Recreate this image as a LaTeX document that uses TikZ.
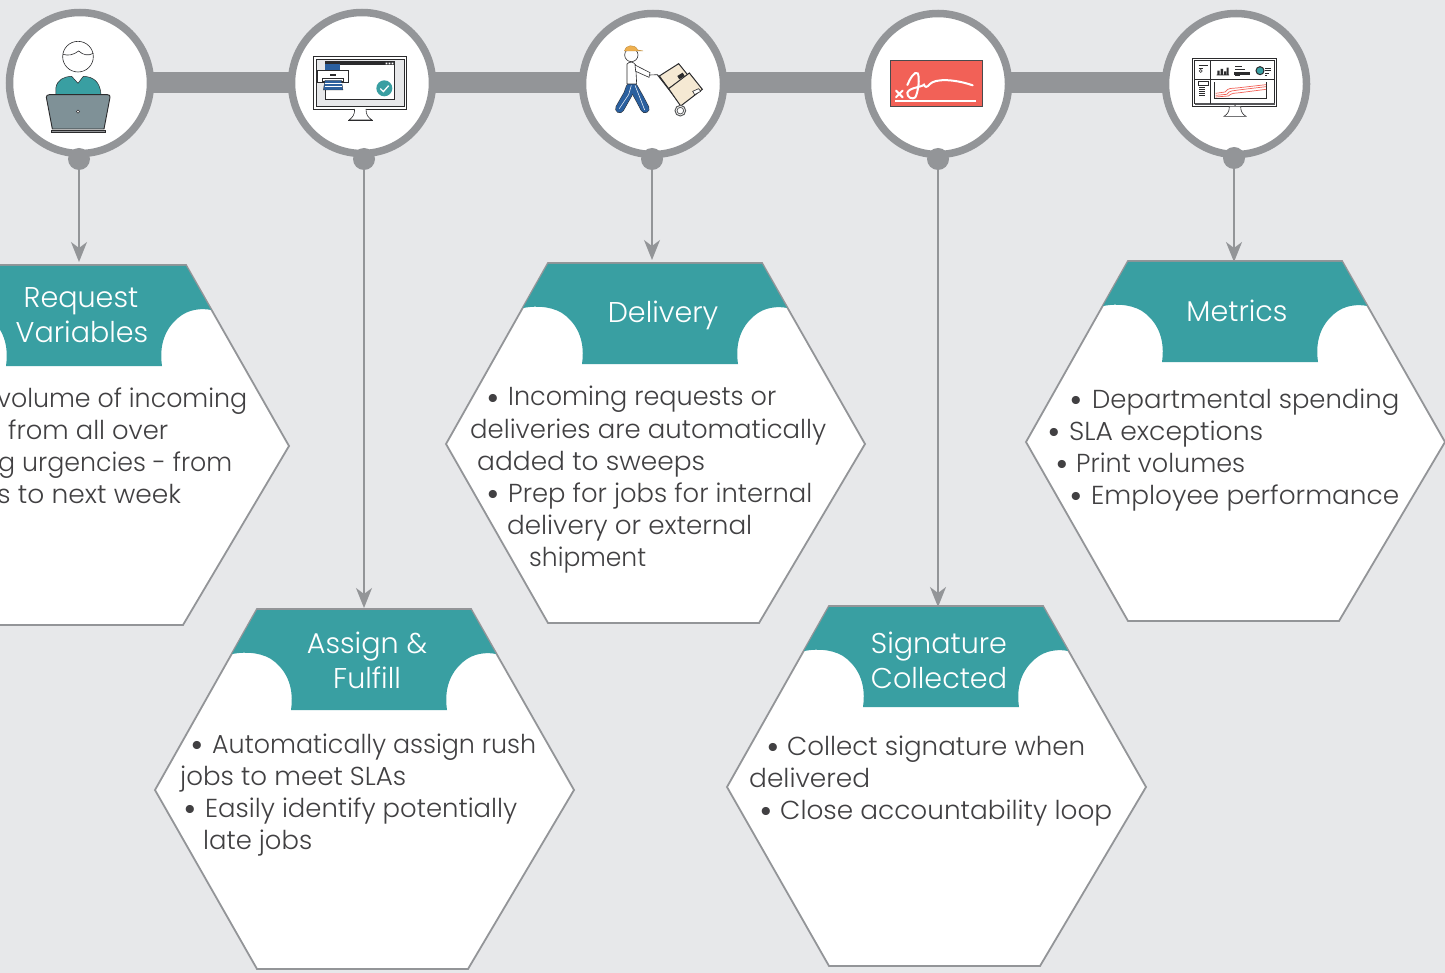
\documentclass[tikz,border=0pt]{standalone}
\usepackage{fontspec}
\usepackage{graphicx}
\usetikzlibrary{arrows.meta,backgrounds}
\setmainfont{Poppins}
\newfontfamily\lightfont{Poppins Light}
\definecolor{bgc}{HTML}{E7E8EA}
\definecolor{greyc}{HTML}{939598}
\definecolor{tealc}{HTML}{399FA2}
\definecolor{txtc}{HTML}{414042}
\definecolor{dk}{HTML}{2B2B2D}
\definecolor{bluec}{HTML}{2A5F9E}
\definecolor{redc}{HTML}{F26157}
\definecolor{boxc}{HTML}{F5E9D3}
\definecolor{hatc}{HTML}{EFB04F}
\definecolor{slatec}{HTML}{7F9197}
\tikzset{
  x=1pt,y=-1pt,
  hub/.style={circle,draw=greyc,line width=7.5pt,fill=white,minimum size=141pt,inner sep=0pt},
  dot/.style={circle,fill=greyc,minimum size=22pt,inner sep=0pt},
  bar/.style={draw=greyc,line width=21pt},
  conn/.style={draw=greyc,line width=1.8pt,-{Stealth[length=20pt,width=16pt,inset=6pt]}},
  hexa/.style={draw=greyc,line width=1.8pt,fill=white,line join=miter},
  title/.style={text=white,anchor=base,inner sep=0pt,font=\lightfont\fontsize{28.6}{30}\selectfont},
  ln/.style={text=txtc,anchor=base west,inner sep=0pt,font=\lightfont\fontsize{26}{30}\selectfont},
  bul/.style={text=txtc,anchor=base west,inner sep=0pt,font=\normalfont\fontsize{33}{30}\selectfont},
  thin/.style={draw=dk,line width=0.6pt},
  zoomed/.style={x=0.33333pt,y=-0.33333pt},
}
\newcommand{\W}[2]{\resizebox{#1pt}{\height}{#2}}
% hexagon: #1 left, #2 top
\newcommand{\hexagonbox}[2]{%
  \begin{scope}[shift={(#1,#2)}]
    \draw[hexa] (0,181) -- (102,0) -- (316,0) -- (419,181) -- (313,360) -- (102,360) -- cycle;
    \fill[tealc] (102,1) -- (316,1) -- (341,45)
      .. controls (332,43) and (318,44) .. (308,53)
      .. controls (295,64) and (289,80) .. (292,101)
      -- (136,101)
      .. controls (139,80) and (133,64) .. (120,53)
      .. controls (110,44) and (92,42) .. (77,45) -- cycle;
  \end{scope}}
\begin{document}
\begin{tikzpicture}
\useasboundingbox (0,0) rectangle (1445,973);
\clip (0,0) rectangle (1445,973);
\begin{scope}[on background layer]
  \fill[bgc] (0,0) rectangle (1445,973);
\end{scope}
% hubs
\node[hub] (h1) at (80,83) {};
\node[hub] (h2) at (362,83) {};
\node[hub] (h3) at (653,84) {};
\node[hub] (h4) at (938,84) {};
\node[hub] (h5) at (1236,84) {};
\begin{scope}[on background layer,yshift=0.5pt]
  \draw[bar] (h1.center) -- (h2.center);
  \draw[bar] (h2.center) -- (h3.center |- h2.center);
  \draw[bar] (h3.center |- h2.center) -- (h4.center |- h2.center);
  \draw[bar] (h4.center |- h2.center) -- (h5.center |- h2.center);
\end{scope}
\node[dot] (d1) at (79,159) {};
\node[dot] (d2) at (364,159) {};
\node[dot] (d3) at (652,159) {};
\node[dot] (d4) at (938,159) {};
\node[dot] (d5) at (1234,158) {};
% hexagons
\hexagonbox{-130}{265}
\hexagonbox{446}{263}
\hexagonbox{1026}{261}
\hexagonbox{155}{609}
\hexagonbox{727}{606}
% arrow ends
\coordinate (a1) at (79,262);
\coordinate (a2) at (364,608);
\coordinate (a3) at (652,260);
\coordinate (a4) at (938,607);
\coordinate (a5) at (1234,262);
\draw[conn] (d1) -- (a1);
\draw[conn] (d2) -- (a2);
\draw[conn] (d3) -- (a3);
\draw[conn] (d4) -- (a4);
\draw[conn] (d5) -- (a5);
% titles
\node[title] (t1a) at (81,308) {Request};
\node[title] (t1b) at (82,343) {Variables};
\node[title] (t3) at (663,323) {Delivery};
\node[title] (t5) at (1237,322) {Metrics};
\node[title] (t2a) at (367,653) {Assign \&};
\node[title] (t2b) at (367,688) {Fulfill};
\node[title] (t4a) at (939,653) {Signature};
\node[title] (t4b) at (939,688) {Collected};
% body text
\node[ln] (r1) at (-3,407) {\W{250}{volume of incoming}};
\node[ln] (r2) at (8,439) {\W{160}{from all over}};
\node[ln] (r3) at (-2,471) {\W{234}{g urgencies - from}};
\node[ln] (r4) at (-3,503) {\W{184}{s to next week}};
\node[bul] (dlb1) at (486,409) {•};
\node[ln] (dl1) at (508,406) {\W{268}{Incoming requests or}};
\node[ln] (dl2) at (470,438) {\W{356}{deliveries are automatically}};
\node[ln] (dl3) at (477,470) {\W{228}{added to sweeps}};
\node[bul] (dlb2) at (486,505) {•};
\node[ln] (dl4) at (508,502) {\W{304}{Prep for jobs for internal}};
\node[ln] (dl5) at (507,534) {\W{245}{delivery or external}};
\node[ln] (dl6) at (529,566) {\W{117}{shipment}};
\node[bul] (mb1) at (1069,411) {•};
\node[ln] (m1) at (1092,408) {\W{307}{Departmental spending}};
\node[bul] (mb2) at (1047,443) {•};
\node[ln] (m2) at (1069,440) {\W{194}{SLA exceptions}};
\node[bul] (mb3) at (1055,475) {•};
\node[ln] (m3) at (1076,472) {\W{169}{Print volumes}};
\node[bul] (mb4) at (1069,507) {•};
\node[ln] (m4) at (1091,504) {\W{308}{Employee performance}};
\node[bul] (ab1) at (190,756) {•};
\node[ln] (a1t) at (212,753) {\W{324}{Automatically assign rush}};
\node[ln] (a2t) at (180,785) {\W{226}{jobs to meet SLAs}};
\node[bul] (ab2) at (183,820) {•};
\node[ln] (a3t) at (205,817) {\W{312}{Easily identify potentially}};
\node[ln] (a4t) at (203,849) {\W{109}{late jobs}};
\node[bul] (sb1) at (766,758) {•};
\node[ln] (s1) at (787,755) {\W{298}{Collect signature when}};
\node[ln] (s2) at (749,787) {\W{121}{delivered}};
\node[bul] (sb2) at (759,822) {•};
\node[ln] (s3) at (780,819) {\W{332}{Close accountability loop}};
% icon 1: person at laptop
\begin{scope}[zoomed]
  \draw[thin,fill=white] (234,170) circle (46);
  \draw[thin] (189,163) .. controls (205,168) and (220,165) .. (236,153) .. controls (250,166) and (265,168) .. (280,160);
  \fill[tealc,draw=dk,line width=.5pt] (168,283) -- (168,262) .. controls (172,240) and (190,230) .. (215,229) -- (234,250) -- (250,229) .. controls (280,230) and (300,245) .. (303,283) -- cycle;
  \draw[dk,line width=.9pt,fill=slatec] (148,284) -- (322,284) .. controls (328,284) and (331,287) .. (330,292) -- (312,387) -- (157,387) -- (139,292) .. controls (139,287) and (142,284) .. (148,284) -- cycle;
  \fill[greyc,draw=dk,line width=.4pt] (154,390) rectangle (315,398);
  \draw[dk,line width=.5pt,fill=white] (234,335) circle (5);
\end{scope}
% icon 2: monitor with printer
\begin{scope}[zoomed]
  \draw[thin,fill=white] (941,168) rectangle (1219,327);
  \draw[thin,fill=bgc] (948,177) rectangle (1212,318);
  \draw[thin,fill=white] (975,185) rectangle (1184,299);
  \fill[dk] (975,185) rectangle (1184,196);
  \fill[white] (1157,188) rectangle (1162,193) (1166,188) rectangle (1171,193) (1175,188) rectangle (1180,193);
  \fill[bluec] (975,191) rectangle (1021,209);
  \draw[thin,fill=white] (953,210) rectangle (1046,247);
  \fill[dk] (990,221) rectangle (1007,227);
  \draw[thin,fill=white] (968,235) rectangle (1030,243);
  \fill[bluec,draw=dk,line width=.3pt] (975,241) -- (1024,241) -- (1029,270) -- (970,270) -- cycle;
  \draw[white,line width=.5pt] (975,251) -- (1025,251) (974,260) -- (1026,260);
  \fill[tealc] (1153,265) circle (24);
  \draw[white,line width=1.3pt] (1141,266) -- (1150,275) -- (1166,257);
  \draw[thin,fill=white] (1064,327) .. controls (1064,345) and (1058,352) .. (1047,360) -- (1116,360) .. controls (1104,352) and (1098,345) .. (1098,327);
  \draw[thin] (1045,360) -- (1118,360);
\end{scope}
% icon 3: delivery person
\begin{scope}[shift={(570,0)},zoomed]
  % legs
  \draw[dk,line width=9pt,line cap=round,line join=round] (181,262) -- (174,282) -- (149,326);
  \draw[dk,line width=9pt,line cap=round,line join=round] (190,262) -- (207,292) -- (225,326);
  \draw[bluec,line width=8pt,line cap=round,line join=round] (181,262) -- (174,282) -- (149,326);
  \draw[bluec,line width=8pt,line cap=round,line join=round] (190,262) -- (207,292) -- (225,326);
  \draw[white,line width=.5pt] (184,256) -- (176,284) -- (148,326) (195,256) -- (210,294) -- (224,330);
  % torso and arm
  \draw[thin,fill=white] (171,252) -- (171,192) .. controls (178,184) and (190,184) .. (197,195) -- (200,252) -- cycle;
  \draw[thin,fill=white] (195,195) -- (240,218) -- (237,232) -- (197,214) -- cycle;
  \draw[thin] (240,225) -- (262,224);
  % head and cap
  \draw[thin,fill=white] (184,165) circle (20);
  \fill[hatc,draw=hatc!80!black,line width=.4pt] (163,153) .. controls (165,135) and (195,130) .. (203,150) -- (219,153) -- cycle;
  % trolley, boxes
  \draw[dk,line width=1pt] (262,224) -- (335,318);
  \draw[dk,line width=1pt,fill=boxc] (268,228) -- (326,191) -- (354,226) -- (296,266) -- cycle;
  \draw[dk,line width=1pt,fill=boxc] (296,266) -- (358,219) -- (397,268) -- (332,318) -- cycle;
  \fill[dk] (322,228) -- (338,218) -- (344,228) -- (328,238) -- cycle;
  \draw[thin,fill=white] (368,274) -- (386,266) -- (392,274) -- (374,284) -- cycle;
  \draw[greyc!60!black,line width=1pt,fill=white] (331,332) circle (16);
  \draw[greyc!60!black,line width=.8pt] (331,332) circle (10);
\end{scope}
% icon 4: signature card
\begin{scope}[shift={(570,0)},zoomed]
  \draw[draw=dk!70!greyc,line width=1.2pt,fill=redc] (961,182) rectangle (1238,319);
  \draw[white,line width=2pt,line cap=round] (978,272) -- (998,292) (998,272) -- (978,292);
  \draw[white,line width=1.6pt] (976,303) -- (1218,303);
  \draw[white,line width=2pt,line cap=round] (1012,255) .. controls (1020,235) and (1035,212) .. (1043,220) .. controls (1050,232) and (1045,275) .. (1036,292) .. controls (1028,300) and (1010,292) .. (1012,278) .. controls (1018,262) and (1055,262) .. (1062,254) .. controls (1065,262) and (1070,264) .. (1080,252) .. controls (1095,236) and (1150,236) .. (1208,256);
\end{scope}
% icon 5: dashboard
\begin{scope}[shift={(1150,0)},zoomed]
  \draw[thin,fill=white] (128,175) rectangle (380,320);
  \draw[dk,line width=1pt] (134,181) rectangle (374,311);
  \fill[dk!60!greyc] (134,309) rectangle (374,314);
  \draw[dk,line width=.9pt] (182,181) -- (182,311) (134,237) -- (374,237);
  \draw[dk,line width=.7pt] (146,197) -- (173,197) (146,204) -- (160,204);
  \draw[dk,line width=.6pt] (152,213) circle (4.5);
  \fill[dk] (200,224) rectangle (237,226) (202,212) rectangle (209,226) (212,207) rectangle (219,226) (222,214) rectangle (228,226) (230,203) rectangle (236,226);
  \draw[dk,line width=.6pt] (255,200) -- (275,200) (255,207) -- (285,207);
  \draw[dk,line width=.6pt,fill=dk] (254,216) rectangle (297,222);
  \draw[dk,line width=.6pt] (255,227) -- (270,227);
  \draw[dk,line width=1pt,fill=tealc] (330,212) circle (12);
  \draw[dk,line width=.7pt] (345,205) -- (364,205) (345,212) -- (362,212) (345,219) -- (356,219) (345,226) -- (352,226);
  \draw[dk,line width=.7pt,fill=white] (146,243) rectangle (175,255);
  \draw[dk,line width=.7pt] (148,262) -- (166,262) (148,268) -- (166,268) (148,274) -- (166,274) (148,280) -- (166,280) (148,286) -- (166,286);
  \draw[dk,line width=.7pt] (193,247) -- (193,294) -- (348,294) -- (348,247);
  \draw[redc,line width=.7pt] (197,280) -- (225,276) .. controls (235,262) and (245,266) .. (260,264) -- (348,254);
  \draw[redc,line width=.7pt] (197,286) -- (230,283) .. controls (240,270) and (250,273) .. (265,270) -- (348,260);
  \draw[redc,line width=.7pt] (197,291) -- (235,288) .. controls (245,278) and (255,280) .. (270,278) -- (348,268);
  \draw[thin,fill=white] (238,320) .. controls (238,335) and (232,343) .. (222,349) -- (288,349) .. controls (278,343) and (272,335) .. (272,320);
  \fill[dk] (255,316) circle (2);
\end{scope}
\end{tikzpicture}
\end{document}
